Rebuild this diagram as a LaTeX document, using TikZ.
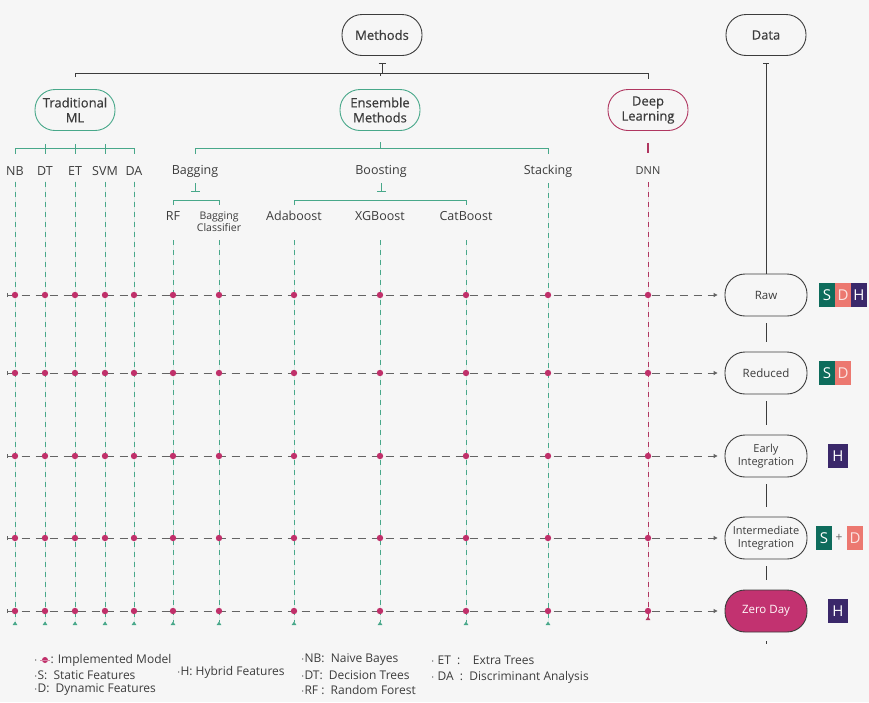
\documentclass[tikz,border=0pt]{standalone}
\usepackage{fontspec}
\setmainfont{Open Sans}
\newfontfamily\titlefont[FakeBold=0.5]{Open Sans}
\usetikzlibrary{arrows.meta,calc}

\definecolor{bgc}{RGB}{246,246,246}
\definecolor{ink}{RGB}{60,60,60}
\definecolor{grnc}{RGB}{72,168,138}
\definecolor{dkgrn}{RGB}{40,140,110}
\definecolor{pinkc}{RGB}{176,54,96}
\definecolor{dotc}{RGB}{192,48,106}
\definecolor{rowc}{RGB}{100,100,100}
\definecolor{sboxc}{RGB}{14,108,92}
\definecolor{dboxc}{RGB}{236,120,112}
\definecolor{hboxc}{RGB}{58,40,106}
\definecolor{zeroc}{RGB}{194,50,112}

\tikzset{
  pill/.style={draw=ink, line width=0.9pt, rounded corners=20pt,
    minimum width=80pt, minimum height=41pt, align=center, inner sep=2pt,
    font=\titlefont\fontsize{13}{15}\selectfont, text=ink},
  grnpill/.style={pill, draw=grnc},
  pinkpill/.style={pill, draw=pinkc},
  datapill/.style={pill, font=\fontsize{11.5}{13.5}\selectfont, minimum width=82pt, minimum height=42pt},
  lab/.style={font=\fontsize{12.5}{14}\selectfont, text=ink, inner sep=1pt},
  sublab/.style={font=\fontsize{10.5}{12}\selectfont, text=ink, inner sep=1pt, align=center},
  bus/.style={draw=ink, line width=0.9pt},
  grn/.style={draw=grnc, line width=1pt},
  vcol/.style={draw=grnc, line width=0.8pt, dash pattern=on 5pt off 5pt,
    -{Triangle[length=3.5pt,width=4.5pt,reversed]}},
  vpink/.style={vcol, draw=pinkc, fill=pinkc},
  hrow/.style={draw=rowc, line width=0.9pt, dash pattern=on 8pt off 6pt,
    {Bar[width=4pt]}-{Triangle[length=4pt,width=4pt]}},
  badge/.style={minimum width=16pt, minimum height=24pt, inner sep=0pt,
    font=\fontsize{15}{15}\selectfont, text=white},
  leg/.style={anchor=west, font=\fontsize{12}{13}\selectfont, text=ink, inner sep=1pt},
}

\begin{document}
\begin{tikzpicture}[x=1pt,y=-1pt]
\fill[bgc] (0,0) rectangle (869,702);
\useasboundingbox (0,0) rectangle (869,702);

% ---- top level ----
\node[pill] (methods) at (382,35) {Methods};
\node[pill] (data) at (766,35) {Data};
\node[grnpill] (trad) at (75,110) {Traditional\\ML};
\node[grnpill] (ens) at (380,110) {Ensemble\\Methods};
\node[pinkpill] (deep) at (648,110) {Deep\\Learning};

\coordinate (bus) at (382,73);
\draw[bus, {Bar[width=7pt]}-] ($(methods.south)+(0,7)$) -- (methods.south |- bus);
\draw[bus] ($(trad.north)+(0,-12)$) -- (trad.north |- bus) -| ($(deep.north)+(0,-10)$);
\draw[bus] ($(ens.north)+(0,-13)$) -- (ens.north |- bus);

% ---- method labels ----
\node[lab] (nb) at (15,171) {NB};
\node[lab] (dt) at (45,171) {DT};
\node[lab] (et) at (75,171) {ET};
\node[lab] (svm) at (105,171) {SVM};
\node[lab] (da) at (134,171) {DA};
\node[lab] (bag) at (195,171) {Bagging};
\node[lab] (boost) at (381,171) {Boosting};
\node[lab] (stack) at (548,171) {Stacking};
\node[sublab, font=\fontsize{11}{12}\selectfont] (dnn) at (648,171) {DNN};
\node[lab] (rf) at (173,216) {RF};
\node[sublab] (bc) at (219,222) {Bagging\\Classifier};
\node[lab] (ada) at (294,216) {Adaboost};
\node[lab] (xgb) at (380,216) {XGBoost};
\node[lab] (cat) at (466,216) {CatBoost};

% ---- brackets ----
\coordinate (tb) at (0,148);
\draw[grn] (nb |- 0,154) -- (nb |- tb) -- (da |- tb) -- (da |- 0,154);
\foreach \c in {dt,et,svm} \draw[grn] (\c |- 0,144) -- (\c |- 0,154);
\draw[grn] (bag |- 0,154) -- (bag |- tb) -- (stack |- tb) -- (stack |- 0,154);
\draw[grn] (ens.south |- 0,142) -- (ens.south |- tb);
\draw[draw=pinkc, line width=1.4pt] ($(deep.south)+(0,12)$) -- ($(deep.south)+(0,22)$);

\draw[grn, -{Bar[width=9pt]}] ($(bag.south)+(0,5)$) -- ($(bag.south)+(0,14)$);
\draw[grn] (rf |- 0,205) -- (rf |- 0,200) -- (bc |- 0,200) -- (bc |- 0,205);
\draw[grn, -{Bar[width=9pt]}] ($(boost.south)+(0,5)$) -- ($(boost.south)+(0,14)$);
\draw[grn] (ada |- 0,205) -- (ada |- 0,200) -- (cat |- 0,200) -- (cat |- 0,205);

% ---- data column ----
\node[datapill] (raw) at (766,295) {Raw};
\node[datapill] (red) at (766,373) {Reduced};
\node[datapill, font=\fontsize{11}{13}\selectfont] (early) at (766,456) {Early\\Integration};
\node[datapill, font=\fontsize{11}{13}\selectfont] (inter) at (766,538) {Intermediate\\Integration};
\node[datapill, fill=zeroc, text=white!90!pink] (zero) at (766,611) {Zero Day};

\draw[bus, line width=0.8pt, {Bar[width=6pt]}-] ($(data.south)+(0,7)$) -- (raw.north);
\draw[bus, line width=0.8pt] ($(raw.south)+(0,7)$) -- ($(red.north)+(0,-10)$);
\draw[bus, line width=0.8pt] ($(red.south)+(0,7)$) -- ($(early.north)+(0,-10)$);
\draw[bus, line width=0.8pt] ($(early.south)+(0,7)$) -- ($(inter.north)+(0,-10)$);
\draw[bus, line width=0.8pt] ($(inter.south)+(0,7)$) -- ($(zero.north)+(0,-10)$);
\draw[bus, line width=0.8pt] ($(zero.south)+(0,9)$) -- ($(zero.south)+(0,12)$);

% ---- feature badges ----
\node[badge, fill=sboxc] (rs) at (827,295) {S};
\node[badge, fill=dboxc, text=white!80!dboxc] (rd) at (843,295) {D};
\node[badge, fill=hboxc] (rh) at (859,295) {H};
\node[badge, fill=sboxc] (ds) at (827,373) {S};
\node[badge, fill=dboxc, text=white!80!dboxc] (dd) at (843,373) {D};
\node[badge, fill=hboxc, minimum width=20pt] (eh) at (838,456) {H};
\node[badge, fill=sboxc] (is) at (824,538) {S};
\node[text=rowc, font=\fontsize{12}{12}\selectfont, inner sep=0pt] (plus) at (839,538) {+};
\node[badge, fill=dboxc, text=white!80!dboxc] (id) at (855,538) {D};
\node[badge, fill=hboxc, minimum width=20pt] (zh) at (838,611) {H};

% ---- grid: rows ----
\foreach \r in {raw,red,early,inter,zero}
  \draw[hrow] (7,0 |- \r) -- ($(\r.west)+(-7,0)$);

% ---- grid: columns ----
\coordinate (bot) at (0,625);
\foreach \c in {nb,dt,et,svm,da,stack}
  \draw[vcol, fill=grnc] ($(\c.south)+(0,5)$) -- (\c.south |- bot);
\foreach \c in {rf,bc,ada,xgb,cat}
  \draw[vcol, fill=grnc] ($(\c |- 0,236)+(0,4)$) -- (\c |- bot);
\draw[vpink] ($(dnn.south)+(0,6)$) -- (dnn.south |- 0,620);

% ---- implemented models ----
\foreach \c in {nb,dt,et,svm,da,rf,bc,ada,xgb,cat,stack,dnn}
  \foreach \r in {raw,red,early,inter,zero}
    \fill[dotc] (\c |- \r) circle[radius=3.2pt];

% ---- legend ----
\node[leg] (l1) at (33,660) {$\cdot$\hspace{13pt}: Implemented Model};
\fill[dotc] (45,660) circle[radius=3pt];
\draw[dotc!60, line width=0.6pt] (40,660) -- (50,660);
\node[leg] (l2) at (33,675) {$\cdot$S:\ \ Static Features};
\node[leg] (l3) at (33,690) {$\cdot$D:\ \ Dynamic Features};
\node[leg] (l4) at (176,672) {$\cdot$H: Hybrid Features};
\node[leg] (l5) at (300,660) {$\cdot$NB:\ \ Naive Bayes};
\node[leg] (l6) at (300,675) {$\cdot$DT:\ \ Decision Trees};
\node[leg] (l7) at (300,690) {$\cdot$RF :\ \ Random Forest};
\node[leg] (l8) at (430,660) {$\cdot$ ET\ \ :\ \ \ \ Extra Trees};
\node[leg] (l9) at (430,677) {$\cdot$ DA\ \ :\ \ Discriminant Analysis};
\end{tikzpicture}
\end{document}
